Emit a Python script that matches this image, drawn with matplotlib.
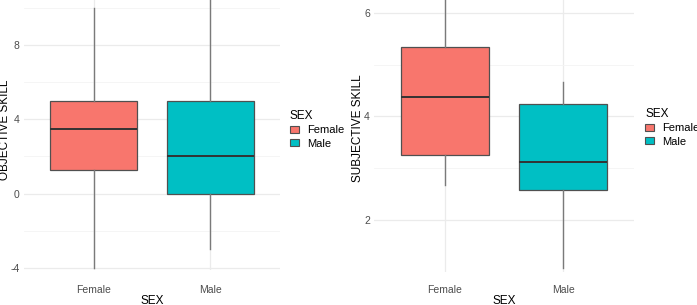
import numpy as np
import matplotlib.pyplot as plt
from matplotlib.patches import Patch

plt.rcParams['font.family'] = ['Liberation Sans', 'DejaVu Sans']
plt.rcParams['axes.unicode_minus'] = False

groups = ['Female', 'Male']
colors = ['#F8766D', '#00BFC4']

# objective skill box stats (whislo, q1, med, q3, whishi)
obj_whislo = [-4.0, -3.0]
obj_q1 = [1.25, 0.0]
obj_med = [3.5, 2.0]
obj_q3 = [5.0, 5.0]
obj_whishi = [10.0, 11.0]

# subjective skill box stats
subj_whislo = [2.67, 1.08]
subj_q1 = [3.26, 2.58]
subj_med = [4.38, 3.12]
subj_q3 = [5.35, 4.25]
subj_whishi = [6.5, 4.67]

W, H = 697, 305
fig = plt.figure(figsize=(W / 100, H / 100), dpi=100)


def panel(rect, lo, q1, med, q3, hi, ylim, major, minor, ylabel, xpad, ylab_xy):
    ax = fig.add_axes(rect)
    stats = []
    for i in range(len(groups)):
        stats.append(dict(whislo=lo[i], q1=q1[i], med=med[i], q3=q3[i],
                          whishi=hi[i], fliers=[], label=groups[i]))
    bp = ax.bxp(stats, positions=[1, 2], widths=0.75, patch_artist=True,
                showcaps=False, showfliers=False,
                boxprops=dict(edgecolor='#505050', linewidth=0.9),
                medianprops=dict(color='#333333', linewidth=1.4),
                whiskerprops=dict(color='#7a7a7a', linewidth=1.0), zorder=3)
    for box, c in zip(bp['boxes'], colors):
        box.set_facecolor(c)
    ax.set_xlim(0.4, 2.6)
    ax.set_ylim(*ylim)
    ax.set_yticks(major)
    ax.set_yticks(minor, minor=True)
    ax.grid(True, which='major', color='#ebebeb', linewidth=0.9, zorder=0)
    ax.grid(True, which='minor', axis='y', color='#f4f4f4', linewidth=0.6, zorder=0)
    ax.set_axisbelow(True)
    for s in ax.spines.values():
        s.set_visible(False)
    ax.tick_params(length=0, which='both', labelsize=7.5, labelcolor='#4d4d4d')
    ax.tick_params(axis='x', pad=xpad)
    ax.tick_params(axis='y', pad=3)
    ax.set_xlabel('SEX', fontsize=8.5, labelpad=0)
    ax.set_ylabel(ylabel, fontsize=8.5)
    ax.yaxis.set_label_coords(*ylab_xy)
    handles = [Patch(facecolor=c, edgecolor='#505050', linewidth=0.8) for c in colors]
    return ax, handles


ax1, h1 = panel([24 / W, 1 - 270 / H, 256 / W, 270 / H],
                obj_whislo, obj_q1, obj_med, obj_q3, obj_whishi,
                (-4.11, 10.42), [-4, 0, 4, 8], [-2, 2, 6, 10], 'OBJECTIVE SKILL', 10.5,
                ((11 - 24) / 256, (270 - 130) / 270))
ax2, h2 = panel([374 / W, 1 - 272 / H, 260 / W, 272 / H],
                subj_whislo, subj_q1, subj_med, subj_q3, subj_whishi,
                (0.995, 6.25), [2, 4, 6], [1, 3, 5], 'SUBJECTIVE SKILL', 9.5,
                ((364 - 374) / 260, (272 - 128) / 272))

for ax, h, x0, y0 in [(ax1, h1, 290, 110), (ax2, h2, 645, 108)]:
    leg = fig.legend(h, groups, loc='upper left',
                     bbox_to_anchor=(x0 / W, 1 - y0 / H), frameon=False,
                     title='SEX', title_fontsize=8.5, fontsize=8,
                     handlelength=0.85, handleheight=0.6, handletextpad=0.7,
                     labelspacing=0.3, borderpad=0, borderaxespad=0)
    leg._legend_box.align = 'left'

fig.savefig('out.png', dpi=100)
